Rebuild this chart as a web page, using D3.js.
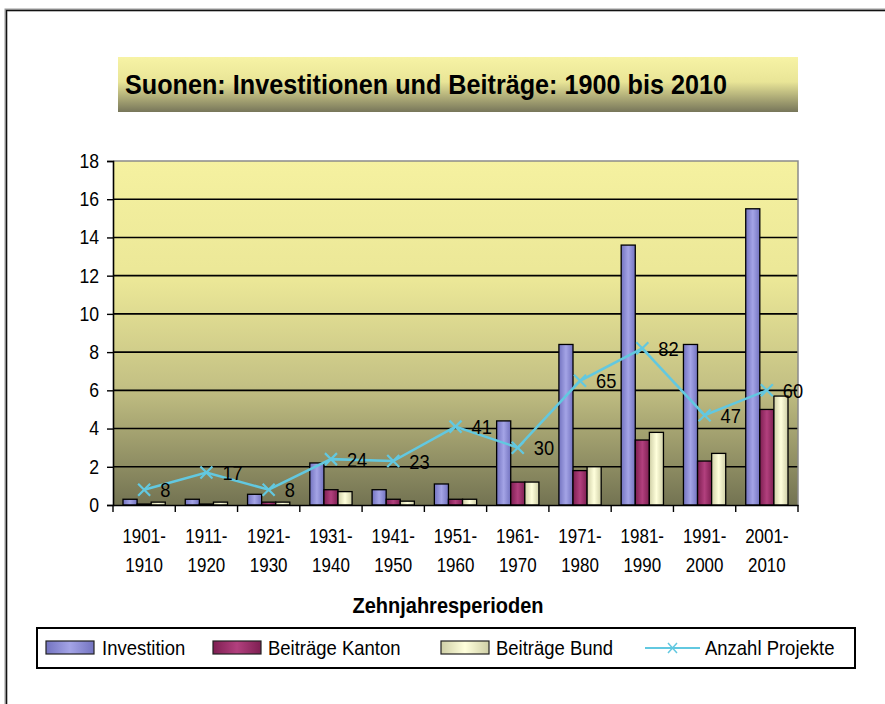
<!DOCTYPE html>
<html><head><meta charset="utf-8">
<script src="https://cdn.jsdelivr.net/npm/d3@7"></script>
<style>body{margin:0;background:#fff}svg{display:block}text{font-family:"Liberation Sans",Arial,sans-serif}</style>
</head><body><svg id="c" width="885" height="704"></svg>
<script>
const categories = ["1901-1910","1911-1920","1921-1930","1931-1940","1941-1950","1951-1960","1961-1970","1971-1980","1981-1990","1991-2000","2001-2010"];
const investition = [0.3,0.3,0.56,2.2,0.8,1.1,4.4,8.4,13.6,8.4,15.5];
const beitraegeKanton = [0.05,0.05,0.15,0.8,0.3,0.3,1.2,1.8,3.4,2.3,5.0];
const beitraegeBund = [0.15,0.15,0.15,0.7,0.2,0.3,1.2,2.0,3.8,2.7,5.7];
const anzahlProjekte = [8,17,8,24,23,41,30,65,82,47,60];
const yTicks = [0,2,4,6,8,10,12,14,16,18];
const seriesNames = ["Investition","Beiträge Kanton","Beiträge Bund"];
const lineName = "Anzahl Projekte";
const title = "Suonen: Investitionen und Beiträge: 1900 bis 2010";
const xTitle = "Zehnjahresperioden";

const svg = d3.select("#c");
const defs = svg.append("defs");
function condense(sel, f){
  sel.each(function(){
    const w = this.getComputedTextLength();
    d3.select(this).attr("textLength", w*f).attr("lengthAdjust","spacingAndGlyphs");
  });
}
function hGrad(id, edge, mid){
  const g = defs.append("linearGradient").attr("id",id).attr("x1","0").attr("x2","1").attr("y1","0").attr("y2","0");
  g.append("stop").attr("offset","0").attr("stop-color",edge);
  g.append("stop").attr("offset","0.5").attr("stop-color",mid);
  g.append("stop").attr("offset","1").attr("stop-color",edge);
}
hGrad("gBlue","#7373c0","#a4a4e6");
hGrad("gMaroon","#7e1f52","#b2407e");
hGrad("gBeige","#cfcfa6","#ffffdc");
const pg = defs.append("linearGradient").attr("id","gPlot").attr("x1","0").attr("x2","0").attr("y1","0").attr("y2","1");
[["0","#f5f1a0"],["0.35","#ebe797"],["0.65","#c4c184"],["1","#737352"]].forEach(s=>pg.append("stop").attr("offset",s[0]).attr("stop-color",s[1]));
const tg = defs.append("linearGradient").attr("id","gTitle").attr("x1","0").attr("x2","0").attr("y1","0").attr("y2","1");
[["0","#f7f3a5"],["0.45","#e9e597"],["1","#77765a"]].forEach(s=>tg.append("stop").attr("offset",s[0]).attr("stop-color",s[1]));

// outer frame
svg.append("rect").attr("x",6).attr("y",10).attr("width",900).attr("height",720)
  .attr("fill","none").attr("stroke","#999").attr("stroke-width",3);
svg.append("rect").attr("x",6.5).attr("y",10.5).attr("width",900).attr("height",720)
  .attr("fill","none").attr("stroke","#111").attr("stroke-width",1.2);

// title
svg.append("rect").attr("x",118).attr("y",57).attr("width",680).attr("height",55).attr("fill","url(#gTitle)");
svg.append("text").attr("x",125).attr("y",94).attr("font-size",27).attr("font-weight","bold")
  .attr("fill","#000").attr("textLength",602).attr("lengthAdjust","spacingAndGlyphs").text(title);

const L=113, R=798, T=161, B=505;
const y = d3.scaleLinear().domain([0,18]).range([B,T]);
const x0 = d3.scaleBand().domain(categories).range([L,R]).padding(0);
const x1 = d3.scaleBand().domain(seriesNames).range([10, x0.bandwidth()-10]).padding(0);

svg.append("rect").attr("x",L).attr("y",T).attr("width",R-L).attr("height",B-T).attr("fill","url(#gPlot)");
svg.append("g").selectAll("line").data(yTicks.filter(d=>d>0 && d<18)).join("line")
  .attr("x1",L).attr("x2",R).attr("y1",d=>y(d)).attr("y2",d=>y(d)).attr("stroke","#000").attr("stroke-width",1.6);
svg.append("path").attr("d",`M${L},${T}H${R}V${B}`).attr("fill","none").attr("stroke","#8a8a8a").attr("stroke-width",1.5);

// bars
const data = categories.map((c,i)=>({c, vals:[investition[i],beitraegeKanton[i],beitraegeBund[i]]}));
const fills = ["url(#gBlue)","url(#gMaroon)","url(#gBeige)"];
const groups = svg.append("g").selectAll("g").data(data).join("g").attr("transform",d=>`translate(${x0(d.c)},0)`);
groups.selectAll("rect").data(d=>d.vals.map((v,k)=>({v,k}))).join("rect")
  .attr("x",d=>x1(seriesNames[d.k])).attr("width",x1.bandwidth())
  .attr("y",d=>y(d.v)).attr("height",d=>B-y(d.v))
  .attr("fill",d=>fills[d.k]).attr("stroke","#000").attr("stroke-width",1.3);

// axes
const yAxis = d3.axisLeft(y).tickValues(yTicks).tickSize(6).tickPadding(8);
const ya = svg.append("g").attr("transform",`translate(${L},0)`).call(yAxis);
ya.select(".domain").attr("stroke","#000").attr("stroke-width",1.6);
ya.selectAll(".tick line").attr("stroke","#000").attr("stroke-width",1.4);
ya.selectAll(".tick text").attr("font-size",20).attr("fill","#000").attr("font-family","Liberation Sans, Arial, sans-serif");
condense(ya.selectAll(".tick text"), 0.88);

const xAxis = d3.axisBottom(x0).tickSize(0).tickFormat("");
const xa = svg.append("g").attr("transform",`translate(0,${B})`).call(xAxis);
xa.select(".domain").attr("stroke","#000").attr("stroke-width",1.6);
svg.append("g").selectAll("line").data(categories.concat(["end"])).join("line")
  .attr("x1",(d,i)=>i<categories.length?x0(d):R).attr("x2",(d,i)=>i<categories.length?x0(d):R)
  .attr("y1",B).attr("y2",B+7).attr("stroke","#000").attr("stroke-width",1.4);
const cx = d=>x0(d)+x0.bandwidth()/2;
const l1 = svg.append("g").selectAll("text").data(categories).join("text")
  .attr("text-anchor","middle").attr("font-size",19.5).attr("fill","#000")
  .attr("x",cx).attr("y",543).text(d=>d.split("-")[0]+"-");
const l2 = svg.append("g").selectAll("text").data(categories).join("text")
  .attr("text-anchor","middle").attr("font-size",19.5).attr("fill","#000")
  .attr("x",cx).attr("y",572).text(d=>d.split("-")[1]);
condense(l1,0.87); condense(l2,0.87);

const xt = svg.append("text").attr("x",448).attr("y",613).attr("text-anchor","middle").attr("font-size",22)
  .attr("font-weight","bold").attr("fill","#000").text(xTitle);
xt.attr("textLength",191).attr("lengthAdjust","spacingAndGlyphs");

// line
const lineColor = "#62c8e0";
const pts = categories.map((c,i)=>({c, v:anzahlProjekte[i], px:cx(c), py:y(anzahlProjekte[i]/10)}));
svg.append("path").datum(pts).attr("d",d3.line().x(d=>d.px).y(d=>d.py))
  .attr("fill","none").attr("stroke",lineColor).attr("stroke-width",2.5);
const mk = svg.append("g").selectAll("g").data(pts).join("g").attr("transform",d=>`translate(${d.px},${d.py})`);
mk.append("path").attr("d","M-6,-6L6,6M-6,6L6,-6").attr("stroke",lineColor).attr("stroke-width",2.2);
const dl = svg.append("g").selectAll("text").data(pts).join("text")
  .attr("x",d=>d.px+16).attr("y",d=>d.py).attr("dy","0.36em").attr("font-size",21).attr("fill","#000")
  .text(d=>d.v);
condense(dl,0.87);

// legend
svg.append("rect").attr("x",37).attr("y",628).attr("width",818).attr("height",40).attr("fill","#fff")
  .attr("stroke","#000").attr("stroke-width",2);
const legItems = [
  {name:seriesNames[0], fill:fills[0], sx:46, tx:102},
  {name:seriesNames[1], fill:fills[1], sx:213, tx:268},
  {name:seriesNames[2], fill:fills[2], sx:441, tx:496}
];
const lg = svg.append("g");
legItems.forEach(it=>{
  lg.append("rect").attr("x",it.sx).attr("y",641).attr("width",48).attr("height",13)
    .attr("fill",it.fill).attr("stroke","#222").attr("stroke-width",1.2);
  lg.append("text").attr("x",it.tx).attr("y",655).attr("font-size",21).attr("fill","#000").text(it.name);
});
lg.append("line").attr("x1",645).attr("x2",700).attr("y1",648).attr("y2",648).attr("stroke",lineColor).attr("stroke-width",1.8);
lg.append("path").attr("d","M668,643L677,653M668,653L677,643").attr("stroke",lineColor).attr("stroke-width",1.5);
lg.append("text").attr("x",705).attr("y",655).attr("font-size",21).attr("fill","#000").text(lineName);
condense(lg.selectAll("text"),0.88);
</script></body></html>
